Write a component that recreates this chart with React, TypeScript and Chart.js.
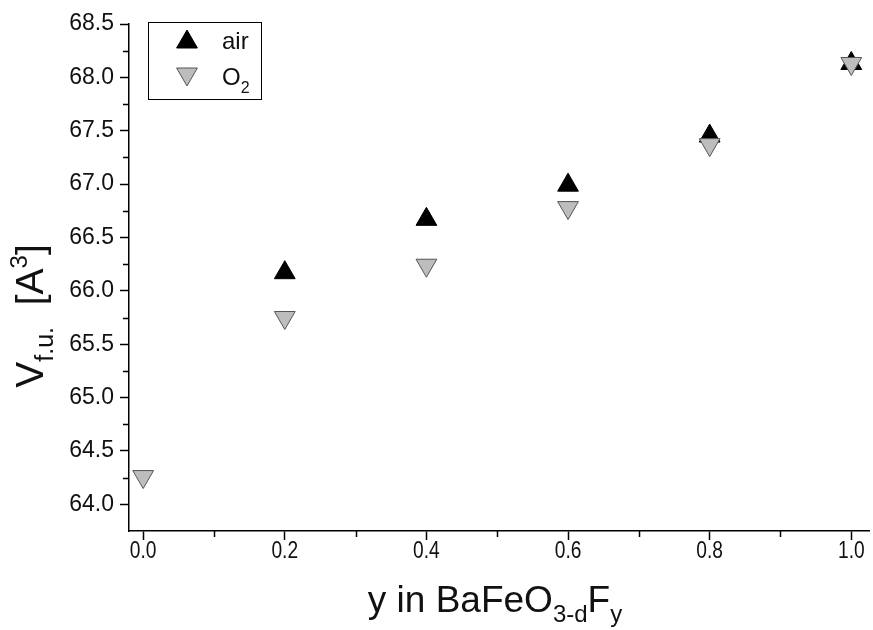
import React, { useEffect, useRef } from 'react';
import { Chart, registerables } from 'chart.js';

Chart.register(...registerables);

// ---- data ----
const airY = [0.2, 0.4, 0.6, 0.8, 1.0];
const airV = [66.17, 66.67, 66.99, 67.45, 68.13];
const o2Y = [0.0, 0.2, 0.4, 0.6, 0.8, 1.0];
const o2V = [64.26, 65.75, 66.24, 66.78, 67.37, 68.13];

const xTicks = [0.0, 0.2, 0.4, 0.6, 0.8, 1.0];
const xMinorTicks = [0.1, 0.3, 0.5, 0.7, 0.9];
const yTicks = [64.0, 64.5, 65.0, 65.5, 66.0, 66.5, 67.0, 67.5, 68.0, 68.5];
const yMinorTicks = [64.25, 64.75, 65.25, 65.75, 66.25, 66.75, 67.25, 67.75, 68.25];

const legendLabels = ['air', 'O'];
const legendSub = ['', '2'];

const SANS = '"Liberation Sans", Arial, sans-serif';

type Part = { t: string; size: number; dy: number };

function drawRich(
  ctx: CanvasRenderingContext2D,
  parts: Part[],
  x: number,
  y: number,
  family: string,
  align: 'center' | 'left',
  sx = 1
) {
  let w = 0;
  for (const p of parts) {
    ctx.font = `${p.size}px ${family}`;
    w += ctx.measureText(p.t).width;
  }
  ctx.save();
  ctx.translate(x, y);
  ctx.scale(sx, 1);
  let cx = align === 'center' ? -w / 2 : 0;
  ctx.textAlign = 'left';
  ctx.textBaseline = 'alphabetic';
  for (const p of parts) {
    ctx.font = `${p.size}px ${family}`;
    ctx.fillText(p.t, cx, p.dy);
    cx += ctx.measureText(p.t).width;
  }
  ctx.restore();
}

function tri(ctx: CanvasRenderingContext2D, x: number, y: number, r: number, down: boolean, fill: string, stroke: string) {
  ctx.save();
  ctx.beginPath();
  const s = down ? -1 : 1;
  ctx.moveTo(x, y - s * r);
  ctx.lineTo(x + r * Math.sin((2 * Math.PI) / 3), y + s * r * 0.5);
  ctx.lineTo(x - r * Math.sin((2 * Math.PI) / 3), y + s * r * 0.5);
  ctx.closePath();
  ctx.fillStyle = fill;
  ctx.fill();
  ctx.strokeStyle = stroke;
  ctx.lineWidth = 1;
  ctx.stroke();
  ctx.restore();
}

const decorPlugin = {
  id: 'decor',
  afterDraw(chart: any) {
    const ctx: CanvasRenderingContext2D = chart.ctx;
    const xs = chart.scales.x;
    const ys = chart.scales.y;
    const area = chart.chartArea;
    ctx.save();
    // minor ticks
    ctx.strokeStyle = '#000';
    ctx.lineWidth = 1.5;
    ctx.beginPath();
    for (const v of xMinorTicks) {
      const px = Math.round(xs.getPixelForValue(v)) + 0.5;
      ctx.moveTo(px, area.bottom);
      ctx.lineTo(px, area.bottom + 6);
    }
    for (const v of yMinorTicks) {
      const py = Math.round(ys.getPixelForValue(v)) + 0.5;
      ctx.moveTo(area.left, py);
      ctx.lineTo(area.left - 6, py);
    }
    ctx.stroke();

    // x tick labels (narrow)
    ctx.fillStyle = '#111';
    for (const v of xTicks) {
      const px = xs.getPixelForValue(v);
      drawRich(ctx, [{ t: v.toFixed(1), size: 24, dy: 0 }], px, area.bottom + 27, SANS, 'center', 0.8);
    }

    // axis titles
    drawRich(
      ctx,
      [
        { t: 'y in BaFeO', size: 37, dy: 0 },
        { t: '3-d', size: 24, dy: 10 },
        { t: 'F', size: 37, dy: 0 },
        { t: 'y', size: 24, dy: 10 },
      ],
      495,
      612,
      SANS,
      'center',
      1.0
    );
    ctx.save();
    ctx.translate(43, 316);
    ctx.rotate(-Math.PI / 2);
    drawRich(
      ctx,
      [
        { t: 'V', size: 39, dy: 0 },
        { t: 'f.u.', size: 25, dy: 10 },
        { t: '  [A', size: 39, dy: 0 },
        { t: '3', size: 24, dy: -16 },
        { t: ']', size: 39, dy: 0 },
      ],
      0,
      0,
      SANS,
      'center'
    );
    ctx.restore();

    // legend
    ctx.strokeStyle = '#000';
    ctx.lineWidth = 1;
    ctx.strokeRect(148.5, 22.5, 113, 77);
    tri(ctx, 187, 42, 12, false, '#000', '#000');
    tri(ctx, 187, 74, 12, true, '#bdbdbd', '#555');
    ctx.fillStyle = '#111';
    drawRich(ctx, [{ t: legendLabels[0], size: 24, dy: 0 }], 222, 49, SANS, 'left');
    drawRich(
      ctx,
      [
        { t: legendLabels[1], size: 24, dy: 0 },
        { t: legendSub[1], size: 16, dy: 8 },
      ],
      222,
      85,
      SANS,
      'left'
    );
    ctx.restore();
  },
};

export default function App() {
  const ref = useRef<HTMLCanvasElement | null>(null);
  useEffect(() => {
    if (!ref.current) return;
    const chart = new Chart(ref.current, {
      type: 'scatter',
      data: {
        datasets: [
          {
            label: 'air',
            data: airY.map((x, i) => ({ x, y: airV[i] })),
            pointStyle: 'triangle',
            pointRadius: 12,
            pointHoverRadius: 12,
            backgroundColor: '#000',
            borderColor: '#000',
            borderWidth: 1,
            showLine: false,
            order: 1,
          },
          {
            label: 'O2',
            data: o2Y.map((x, i) => ({ x, y: o2V[i] })),
            pointStyle: 'triangle',
            rotation: 180,
            pointRadius: 12,
            pointHoverRadius: 12,
            backgroundColor: '#bdbdbd',
            borderColor: '#555',
            borderWidth: 1,
            showLine: false,
            order: 0,
          } as any,
        ],
      },
      options: {
        animation: false,
        responsive: true,
        maintainAspectRatio: false,
        events: [],
        layout: { autoPadding: false, padding: { top: 24, right: 4, left: 0, bottom: 0 } },
        plugins: { legend: { display: false }, tooltip: { enabled: false } },
        scales: {
          x: {
            type: 'linear',
            min: -0.02,
            max: 1.025,
            border: { display: true, color: '#000', width: 1.5 },
            grid: { display: true, drawOnChartArea: false, drawTicks: true, tickLength: 9, tickColor: '#000', tickWidth: 1.5 },
            ticks: { display: false, autoSkip: false },
            afterBuildTicks: (s: any) => {
              s.ticks = xTicks.map((v) => ({ value: v }));
            },
            afterFit: (s: any) => {
              s.height = 99;
            },
          },
          y: {
            type: 'linear',
            min: 63.75,
            max: 68.5,
            border: { display: true, color: '#000', width: 1.5 },
            grid: { display: true, drawOnChartArea: false, drawTicks: true, tickLength: 9, tickColor: '#000', tickWidth: 1.5 },
            ticks: {
              color: '#111',
              padding: 6,
              autoSkip: false,
              font: { family: SANS, size: 23 },
              callback: (v: any) => Number(v).toFixed(1),
            },
            afterBuildTicks: (s: any) => {
              s.ticks = yTicks.map((v) => ({ value: v }));
            },
            afterFit: (s: any) => {
              s.width = 129;
            },
          },
        },
      },
      plugins: [decorPlugin],
    });
    return () => chart.destroy();
  }, []);
  return (
    <div style={{ position: 'absolute', left: 0, top: 0, width: 873, height: 630, background: '#fff' }}>
      <canvas ref={ref} />
    </div>
  );
}
